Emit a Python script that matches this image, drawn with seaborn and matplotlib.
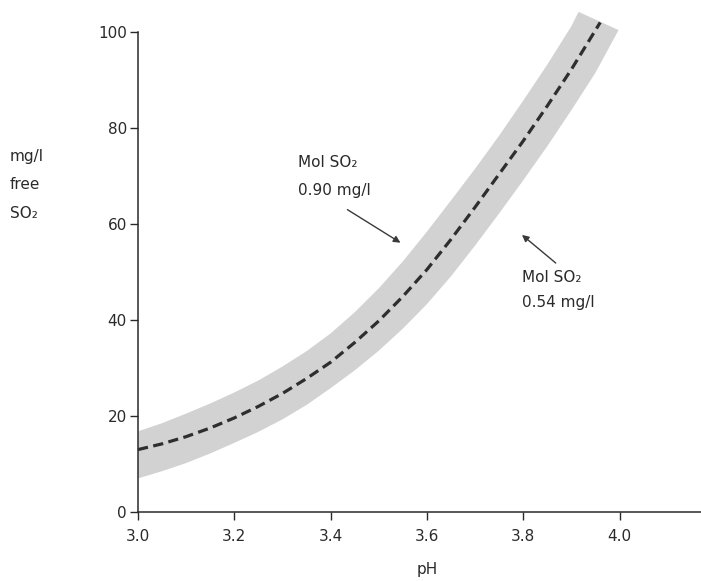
import numpy as np
import pandas as pd
import matplotlib
matplotlib.use("Agg")
import matplotlib.pyplot as plt
import seaborn as sns

# --- data -------------------------------------------------------------------
ph_mid = [3.00, 3.05, 3.10, 3.15, 3.20, 3.25, 3.30, 3.35, 3.40, 3.45,
          3.50, 3.55, 3.60, 3.65, 3.70, 3.75, 3.80, 3.85, 3.90, 3.96]
so2_mid = [13.0, 14.2, 15.7, 17.5, 19.6, 22.0, 24.7, 27.8, 31.2, 35.3,
           39.8, 44.9, 50.5, 56.8, 63.5, 70.4, 77.3, 84.6, 92.2, 102.0]

# band edge: 0.90 mg/l molecular SO2 (upper-left edge)
ph_hi = [3.00, 3.05, 3.10, 3.15, 3.20, 3.25, 3.30, 3.35, 3.40, 3.45,
         3.50, 3.55, 3.60, 3.65, 3.70, 3.75, 3.80, 3.85, 3.90, 3.915]
so2_hi = [16.8, 18.5, 20.5, 22.6, 24.9, 27.4, 30.3, 33.5, 37.2, 41.6,
          46.6, 52.2, 58.4, 64.9, 71.5, 78.4, 85.7, 93.2, 101.2, 104.2]

# band edge: 0.54 mg/l molecular SO2 (lower-right edge)
ph_lo = [3.00, 3.05, 3.10, 3.15, 3.20, 3.25, 3.30, 3.35, 3.40, 3.45,
         3.50, 3.55, 3.60, 3.65, 3.70, 3.75, 3.80, 3.85, 3.90, 3.95, 3.998]
so2_lo = [7.0, 8.5, 10.2, 12.2, 14.4, 16.7, 19.3, 22.3, 25.8, 29.5,
          33.6, 38.2, 43.3, 49.1, 55.5, 62.2, 69.1, 76.2, 83.7, 91.5, 100.4]

x_ticks = [3.0, 3.2, 3.4, 3.6, 3.8, 4.0]
x_tick_labels = ["3.0", "3.2", "3.4", "3.6", "3.8", "4.0"]
y_ticks = [0, 20, 40, 60, 80, 100]
y_tick_labels = ["0", "20", "40", "60", "80", "100"]

label_hi = ["Mol SO\u2082", "0.90 mg/l"]
label_lo = ["Mol SO\u2082", "0.54 mg/l"]
y_label_lines = ["mg/l", "free", "SO\u2082"]
x_label = "pH"

# --- figure -----------------------------------------------------------------
sns.set_theme(style="white")
plt.rcParams["font.family"] = ["DejaVu Sans"]

W, H = 701, 581
fig = plt.figure(figsize=(W / 100, H / 100), dpi=100)
fig.patch.set_facecolor("white")

ax_left, ax_right, ax_top, ax_bottom = 138, 701, 32, 512
ax = fig.add_axes([ax_left / W, (H - ax_bottom) / H,
                   (ax_right - ax_left) / W, (ax_bottom - ax_top) / H])
ax.set_facecolor("white")

x_max = 3.0 + (ax_right - ax_left) / 481.5
ax.set_xlim(3.0, x_max)
ax.set_ylim(0, 100)

# gray band between the two edges
band_x = np.concatenate([ph_hi, ph_lo[::-1]])
band_y = np.concatenate([so2_hi, so2_lo[::-1]])
ax.fill(band_x, band_y, color="#d2d2d2", lw=0, zorder=1, clip_on=False)

# dashed middle curve
df = pd.DataFrame({"pH": ph_mid, "SO2": so2_mid})
sns.lineplot(data=df, x="pH", y="SO2", ax=ax, color="#2e2e2e", lw=2.3,
             zorder=3, clip_on=False)
ax.lines[-1].set_dashes((3.2, 1.7))

# axes styling
for s in ["top", "right"]:
    ax.spines[s].set_visible(False)
for s in ["left", "bottom"]:
    ax.spines[s].set_color("#2a2a2a")
    ax.spines[s].set_linewidth(1.1)
ax.set_xticks(x_ticks)
ax.set_xticklabels(x_tick_labels)
ax.set_yticks(y_ticks)
ax.set_yticklabels(y_tick_labels)
ax.tick_params(axis="both", direction="out", length=6, width=1.0,
               color="#2a2a2a", labelsize=11, labelcolor="#2a2a2a",
               bottom=True, left=True)
ax.tick_params(axis="x", pad=6)
ax.tick_params(axis="y", pad=2)
ax.set_xlabel("")
ax.set_ylabel("")

# x label
ax.text(3.6, -12.0, x_label, ha="center", va="center", fontsize=11,
        color="#2a2a2a", clip_on=False)

# y label (three lines, left of axis)
for txt, py in zip(y_label_lines, [157, 185, 213]):
    fig.text(10 / W, 1 - py / H, txt, ha="left", va="center",
             fontsize=11, color="#2a2a2a")

# annotations
ax.annotate("", xy=(3.550, 55.8), xytext=(3.430, 63.3),
            arrowprops=dict(arrowstyle="-|>", color="#3a3a3a", lw=1.0,
                            mutation_scale=10))
ax.annotate("", xy=(3.793, 58.1), xytext=(3.872, 51.5),
            arrowprops=dict(arrowstyle="-|>", color="#3a3a3a", lw=1.0,
                            mutation_scale=10))

def ypx(py):
    return (ax_bottom - py) / 4.8

ax.text(3.332, ypx(163), label_hi[0], ha="left", va="center", fontsize=11, color="#2a2a2a")
ax.text(3.332, ypx(191), label_hi[1], ha="left", va="center", fontsize=11, color="#2a2a2a")
ax.text(3.797, ypx(277), label_lo[0], ha="left", va="center", fontsize=11, color="#2a2a2a")
ax.text(3.797, ypx(302), label_lo[1], ha="left", va="center", fontsize=11, color="#2a2a2a")

fig.savefig("out.png", dpi=100, facecolor="white")
